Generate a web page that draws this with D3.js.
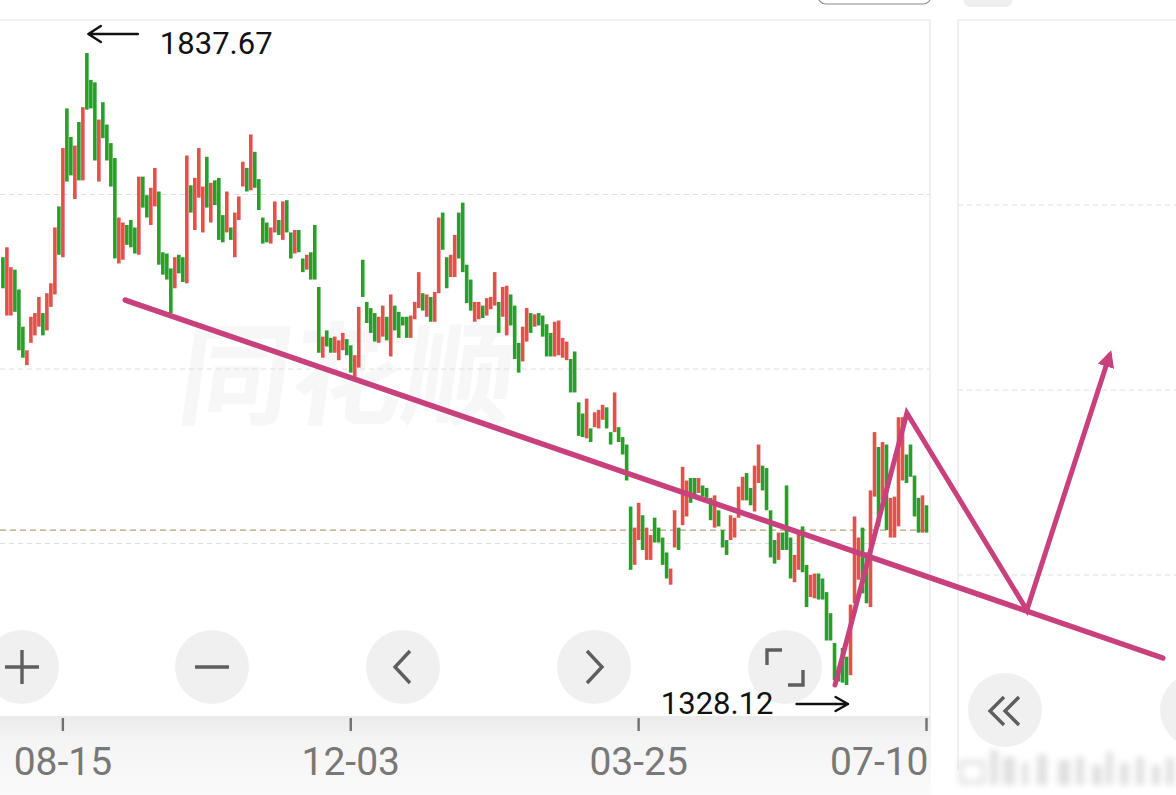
<!DOCTYPE html>
<html>
<head>
<meta charset="utf-8">
<script src="https://cdn.jsdelivr.net/npm/d3@7"></script>
<style>
  html, body { margin: 0; padding: 0; background: #fff; overflow: hidden; }
  svg { display: block; font-family: Roboto, "Noto Sans", sans-serif; }
</style>
</head>
<body>
<div id="chart"></div>
<script>
// daily highs / lows (index points)
const highs = [
  1673,1681,1665,1663,1647,1617,1598,1625,1628,1641,
  1628,1644,1652,1697,1714,1761,1793,1770,1763,1782,
  1794,1837.67,1816,1814,1784,1798,1780,1765,1753,1705,
  1701,1699,1703,1697,1738,1738,1723,1729,1745,1726,
  1677,1676,1664,1673,1675,1673,1755,1731,1737,1761,
  1730,1754,1733,1735,1737,1707,1726,1697,1709,1722,
  1750,1745,1772,1758,1736,1705,1701,1697,1718,1703,
  1718,1719,1693,1695,1695,1672,1675,1677,1699,1649,
  1609,1614,1608,1609,1606,1612,1607,1602,1594,1633,
  1671,1637,1632,1628,1625,1634,1625,1643,1634,1629,
  1625,1625,1626,1637,1661,1644,1643,1641,1645,1705,
  1709,1673,1675,1691,1709,1717,1667,1655,1637,1637,
  1634,1640,1641,1661,1637,1649,1650,1643,1634,1604,
  1617,1632,1628,1627,1628,1626,1619,1612,1621,1622,
  1608,1605,1591,1597,1556,1547,1559,1535,1548,1550,
  1554,1552,1532,1564,1536,1528,1522,1472,1455,1475,
  1465,1455,1449,1463,1455,1447,1435,1422,1469,1455,
  1504,1493,1495,1495,1495,1489,1487,1479,1481,1469,
  1453,1445,1465,1463,1488,1496,1499,1487,1505,1522,
  1505,1503,1469,1445,1451,1451,1489,1447,1433,1453,
  1456,1425,1417,1418,1418,1414,1403,1386,1362,1343,
  1358,1351,1393,1464,1447,1455,1435,1485,1532,1520,
  1524,1522,1479,1480,1544,1544,1514,1522,1497,1479,
  1481,1473
];
const lows = [
  1648,1626,1626,1629,1598,1592,1586,1604,1610,1617,
  1610,1614,1633,1643,1675,1673,1734,1739,1720,1735,
  1735,1792,1793,1751,1734,1769,1751,1730,1672,1668,
  1671,1683,1681,1676,1675,1713,1705,1699,1714,1667,
  1659,1655,1628,1648,1660,1653,1652,1709,1695,1721,
  1693,1713,1701,1715,1687,1685,1693,1687,1673,1703,
  1730,1726,1727,1729,1711,1684,1685,1684,1693,1691,
  1687,1693,1672,1676,1677,1661,1663,1655,1655,1596,
  1592,1601,1596,1596,1590,1598,1594,1580,1576,1584,
  1641,1620,1612,1605,1604,1609,1606,1593,1614,1608,
  1618,1608,1608,1623,1632,1630,1625,1621,1621,1644,
  1679,1648,1657,1657,1672,1661,1636,1630,1621,1623,
  1624,1626,1631,1634,1612,1625,1610,1618,1591,1580,
  1589,1605,1612,1617,1618,1609,1593,1593,1593,1594,
  1592,1590,1564,1564,1529,1528,1527,1524,1536,1535,
  1542,1535,1522,1532,1524,1514,1493,1421,1425,1445,
  1437,1429,1429,1443,1443,1425,1414,1409,1439,1437,
  1457,1464,1475,1481,1483,1480,1479,1461,1455,1456,
  1439,1433,1445,1447,1463,1477,1477,1473,1468,1491,
  1485,1469,1431,1426,1429,1437,1437,1414,1411,1421,
  1419,1391,1399,1398,1397,1397,1364,1364,1332,1331,
  1330,1328.12,1336,1394,1413,1402,1394,1391,1480,1456,
  1477,1453,1447,1447,1456,1493,1491,1496,1464,1451,
  1451,1451
];
// R = up day (red), G = down day (green)
const dirs = ("GRRGGGRRRR" + "GRRRGRGGRG" + "RGGGRGGGGR" + "RGGGRGGRRG" + "GGGRGGRGRR" +
              "RGRGGGRGRR" + "RGRGGGGRRG" + "RGGRGGRGGG" + "RGGRRRGGRR" + "GGGGRRGRGG" +
              "GGRRRGRGRR" + "GGRRGGGGRR" + "GRRRGRRGGG" + "RRGRGGGGRR" + "RRGGGGRGRR" +
              "RGGRGGGGRR" + "GRRGGGGRRG" + "RRGGRGGGRG" + "GGRRRRGGRR" + "GGGGRGGGRR" +
              "GGRRGGGGGG" + "GGRRRGGRRG" + "RGRRRRGGGG" + "RG").split("");

const tickIndex = [15, 87, 159, 231];
const tickLabels = ["08-15", "12-03", "03-25", "07-10"];
const lastPrice = 1453;
const peakIndex = 21, troughIndex = 211;

// hand-drawn trend annotations, in (bar index, price)
const trendLine = [[30.6, 1638.5], [290.1, 1349.9]];
const zigzag = [[208.1, 1328.1], [226.1, 1547.4], [256.1, 1388.6], [276.8, 1594.2]];

const W = 1176, H = 795;
const plot = { left: 0, right: 930, top: 20, bottom: 718 };

const svg = d3.select("#chart").append("svg")
  .attr("width", W).attr("height", H);

const defs = svg.append("defs");
const grad = defs.append("linearGradient").attr("id", "band")
  .attr("x1", 0).attr("y1", 0).attr("x2", 0).attr("y2", 1);
grad.append("stop").attr("offset", "0%").attr("stop-color", "#ebebeb");
grad.append("stop").attr("offset", "35%").attr("stop-color", "#f5f5f5");
grad.append("stop").attr("offset", "100%").attr("stop-color", "#fafafa");
defs.append("filter").attr("id", "blur")
  .append("feGaussianBlur").attr("stdDeviation", 3);
defs.append("marker").attr("id", "pinkHead")
  .attr("viewBox", "0 0 10 10").attr("refX", 7).attr("refY", 5)
  .attr("markerWidth", 3.4).attr("markerHeight", 3.4)
  .attr("orient", "auto")
  .append("path").attr("d", "M0,0 L10,5 L0,10 Z").attr("fill", "#c8407c");

// scales
const x = d3.scaleBand()
  .domain(d3.range(highs.length))
  .range([0.7, 0.7 + 4 * highs.length])
  .padding(0.1);
const xc = i => x(i) + x.bandwidth() / 2;
const xLin = d3.scaleLinear().domain([0, highs.length - 1])
  .range([xc(0), xc(highs.length - 1)]);
const y = d3.scaleLinear().domain([1328.12, 1837.67]).range([685, 53]);

// watermark
svg.append("text")
  .attr("x", 178).attr("y", 416)
  .attr("transform", "skewX(-8) translate(55,0)")
  .style("font-family", "'Noto Sans CJK SC', sans-serif")
  .style("font-size", "112px").style("font-weight", 700)
  .style("fill", "#f7f7f7")
  .text("同花顺");

// panel frames and grids
const frame = svg.append("g").attr("stroke", "#e6e6e6").attr("stroke-width", 1.2);
frame.append("line").attr("x1", 0).attr("x2", plot.right).attr("y1", plot.top).attr("y2", plot.top);
frame.append("line").attr("x1", plot.right).attr("x2", plot.right).attr("y1", plot.top).attr("y2", 716);
frame.append("line").attr("x1", 958).attr("x2", W).attr("y1", plot.top).attr("y2", plot.top);
frame.append("line").attr("x1", 958).attr("x2", 958).attr("y1", plot.top).attr("y2", 770);

const gridMain = d3.range(1, 4).map(k => plot.top + k * (plot.bottom - plot.top) / 4);
svg.append("g").selectAll("line").data(gridMain).join("line")
  .attr("x1", 0).attr("x2", plot.right)
  .attr("y1", d => d).attr("y2", d => d)
  .attr("stroke", "#dedede").attr("stroke-dasharray", "5,4");
const gridRight = d3.range(1, 4).map(k => plot.top + k * 185);
svg.append("g").selectAll("line").data(gridRight).join("line")
  .attr("x1", 958).attr("x2", W)
  .attr("y1", d => d).attr("y2", d => d)
  .attr("stroke", "#dedede").attr("stroke-dasharray", "5,4");

// last price line
svg.append("line")
  .attr("x1", 0).attr("x2", plot.right)
  .attr("y1", y(lastPrice)).attr("y2", y(lastPrice))
  .attr("stroke", "#b3a27c").attr("stroke-width", 1.4)
  .attr("stroke-dasharray", "6,4");

// candles
const bars = highs.map((h, i) => ({ i: i, high: h, low: lows[i], up: dirs[i] === "R" }));
svg.append("g").selectAll("rect").data(bars).join("rect")
  .attr("x", d => x(d.i))
  .attr("width", x.bandwidth())
  .attr("y", d => y(d.high))
  .attr("height", d => Math.max(1.5, y(d.low) - y(d.high)))
  .attr("fill", d => d.up ? "#e4504c" : "#27a02a");

// bottom band + axis
svg.append("rect").attr("x", 0).attr("y", 716).attr("width", plot.right + 1).attr("height", H - 716)
  .attr("fill", "url(#band)");

const axis = svg.append("g")
  .attr("transform", `translate(0,${plot.bottom})`)
  .call(d3.axisBottom(x).tickValues(tickIndex)
    .tickFormat((d, k) => tickLabels[k]).tickSize(13).tickPadding(16));
axis.select(".domain").remove();
axis.selectAll(".tick line").attr("stroke", "#707070").attr("stroke-width", 2.4);
axis.selectAll(".tick text")
  .style("font-family", "Roboto, sans-serif")
  .style("font-size", "39px")
  .style("fill", "#787878");
axis.selectAll(".tick").filter((d, k) => k === tickIndex.length - 1).select("text")
  .attr("text-anchor", "end").attr("x", 2);

// blurred mini chart under right panel
const mini = svg.append("g").attr("filter", "url(#blur)").attr("fill", "#e0e0e0");
mini.append("rect").attr("x", 961).attr("y", 762).attr("width", 22).attr("height", 20)
  .attr("fill", "none").attr("stroke", "#d8d8d8").attr("stroke-width", 3);
[[990, 750, 8], [1003, 757, 12], [1022, 762, 6], [1037, 755, 10], [1058, 760, 12],
 [1076, 757, 8], [1092, 765, 10], [1106, 752, 7], [1120, 763, 9], [1136, 757, 8],
 [1152, 765, 8], [1166, 758, 8]]
  .forEach(b => mini.append("rect").attr("x", b[0]).attr("y", b[1]).attr("width", b[2]).attr("height", 785 - b[1]));

// pink trend annotations
const line = d3.line().x(d => xLin(d[0])).y(d => y(d[1]));
svg.append("path").datum(trendLine)
  .attr("d", line).attr("fill", "none")
  .attr("stroke", "#c8407c").attr("stroke-width", 5.5).attr("stroke-linecap", "round");
svg.append("path").datum(zigzag)
  .attr("d", line).attr("fill", "none")
  .attr("stroke", "#c8407c").attr("stroke-width", 5).attr("stroke-linejoin", "miter")
  .attr("stroke-linecap", "round")
  .attr("marker-end", "url(#pinkHead)");

// round overlay buttons
const btnG = svg.append("g");
const buttons = [[22, 667], [212, 667], [403, 667], [594, 667], [785, 667], [1005, 710], [1197, 710]];
btnG.selectAll("circle").data(buttons).join("circle")
  .attr("cx", d => d[0]).attr("cy", d => d[1]).attr("r", 37)
  .attr("fill", "#efefef").attr("fill-opacity", 0.95);
const icon = btnG.append("g").attr("fill", "none").attr("stroke", "#5e5e5e")
  .attr("stroke-width", 3.4).attr("stroke-linecap", "butt");
icon.append("path").attr("d", "M5,667 H39 M22,650 V684");
icon.append("path").attr("d", "M195,667 H229");
icon.append("path").attr("d", "M410,651 L395,667 L410,683");
icon.append("path").attr("d", "M587,651 L602,667 L587,683");
icon.append("path").attr("d", "M767,665 V650 H782 M788,685 H803 V670");
icon.append("path").attr("d", "M1004,697 L990,711 L1004,725 M1019,697 L1005,711 L1019,725");

// top bar remnants
svg.append("rect").attr("x", 818).attr("y", -22).attr("width", 113).attr("height", 26).attr("rx", 8)
  .attr("fill", "none").attr("stroke", "#8c8c8c").attr("stroke-width", 1.2);
svg.append("rect").attr("x", 963).attr("y", -15).attr("width", 50).attr("height", 22).attr("rx", 8)
  .attr("fill", "#efefef");

// extreme labels with hand arrows
const px = xc(peakIndex), py = y(highs[peakIndex]);
const tx = xc(troughIndex), ty = y(lows[troughIndex]);
const arrows = svg.append("g").attr("fill", "none").attr("stroke", "#111")
  .attr("stroke-width", 2.4).attr("stroke-linecap", "round").attr("stroke-linejoin", "round");
arrows.append("path")
  .attr("d", `M${px + 1.5},${py - 19} H${px + 51} M${px + 14},${py - 27} L${px + 1.5},${py - 19} L${px + 14},${py - 11}`);
arrows.append("path")
  .attr("d", `M${tx - 50},${ty + 19} H${tx + 1.5} M${tx - 11},${ty + 12} L${tx + 1.5},${ty + 19} L${tx - 11},${ty + 26}`);

svg.append("text")
  .attr("x", px + 73).attr("y", py + 1)
  .style("font-size", "31px").style("fill", "#111")
  .text(highs[peakIndex].toFixed(2));
svg.append("text")
  .attr("x", tx - 73).attr("y", ty + 29)
  .attr("text-anchor", "end")
  .style("font-size", "31px").style("fill", "#111")
  .text(lows[troughIndex].toFixed(2));
</script>
</body>
</html>
